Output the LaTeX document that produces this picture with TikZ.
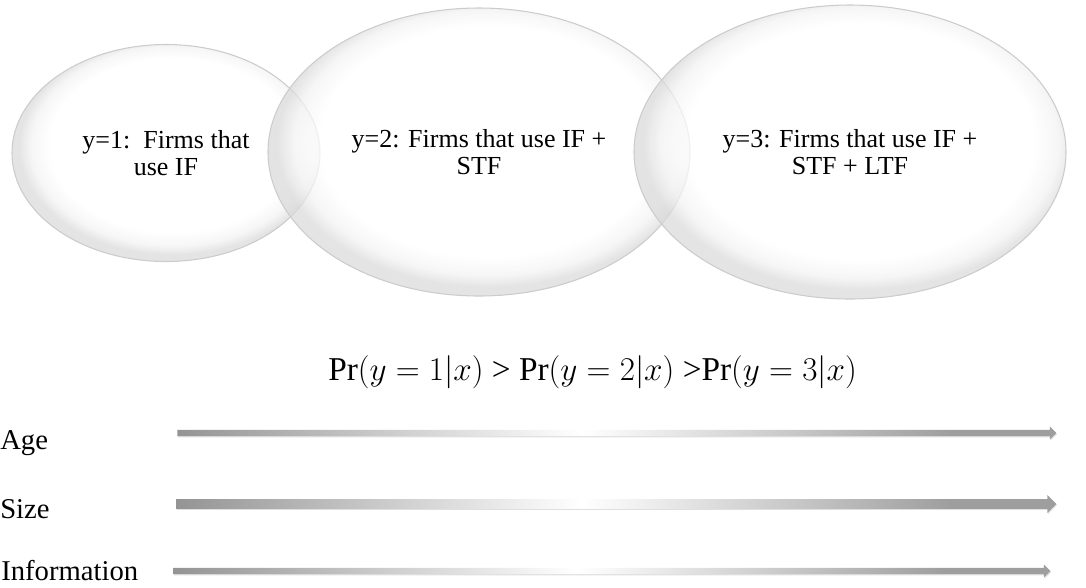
\documentclass[tikz,border=0pt]{standalone}
\usepackage{fontspec}
\setmainfont{Liberation Serif}
\usepackage{xcolor}
\usepackage{tikz}
\usetikzlibrary{positioning,shapes.geometric,shapes.arrows,shadows}

\pgfdeclareradialshading{bubble}{\pgfpoint{2bp}{3bp}}{color(0bp)=(white); color(20bp)=(white); color(23bp)=(black!5); color(25bp)=(black!15); color(50bp)=(black!15)}
\pgfdeclarehorizontalshading{fade}{100bp}{color(0bp)=(black!42); color(25bp)=(black!42); color(48bp)=(white); color(69bp)=(black!38); color(100bp)=(black!38)}

\begin{document}
\begin{tikzpicture}[
  x=0.75pt, y=-0.75pt,
  group/.style={ellipse, draw=black!20, line width=0.8pt, shading=bubble, fill opacity=0.72, text opacity=1, inner sep=0pt, align=center, font=\fontsize{19.5}{20.5}\selectfont},
  factor/.style={anchor=base west, inner sep=0pt, font=\fontsize{21.5}{25}\selectfont},
  trend/.style={single arrow, anchor=west, shading=fade, inner xsep=0pt, drop shadow={opacity=0.25, shadow xshift=0.6pt, shadow yshift=-0.8pt}}
]
\useasboundingbox (0,0) rectangle (1086,587);

% outcome groups
\node[group, minimum width=308pt*0.75, minimum height=217pt*0.75] (yone) at (166,153) {y=1:~~Firms that\\use IF};
\node[group, minimum width=422pt*0.75, minimum height=288pt*0.75] (ytwo) at (479,152) {y=2: Firms that use IF +\\STF};
\node[group, minimum width=432pt*0.75, minimum height=294pt*0.75] (ythree) at (850,152) {y=3: Firms that use IF +\\STF + LTF};

\node[anchor=base west, inner sep=0pt, font=\fontsize{25}{29}\selectfont] (prob) at (328,380)
  {$\mathrm{Pr}(y=1|x)$ > $\mathrm{Pr}(y=2|x)$ >$\mathrm{Pr}(y=3|x)$};

% firm characteristics
\node[factor] (age) at (0,449) {Age};
\node[factor] (size) at (0,518) {Size};
\node[factor] (info) at (1,580) {Information};

\node[trend, minimum height=879pt*0.75, inner ysep=2.2pt, single arrow head extend=2.5pt, single arrow head indent=0pt] (agearrow) at (177,433) {};
\node[trend, minimum height=880pt*0.75, inner ysep=3.4pt, single arrow head extend=3.2pt, single arrow head indent=0pt] (sizearrow) at (176,504) {};
\node[trend, minimum height=877pt*0.75, inner ysep=2.2pt, single arrow head extend=2.5pt, single arrow head indent=0pt] (infoarrow) at (173,571) {};
\end{tikzpicture}
\end{document}
